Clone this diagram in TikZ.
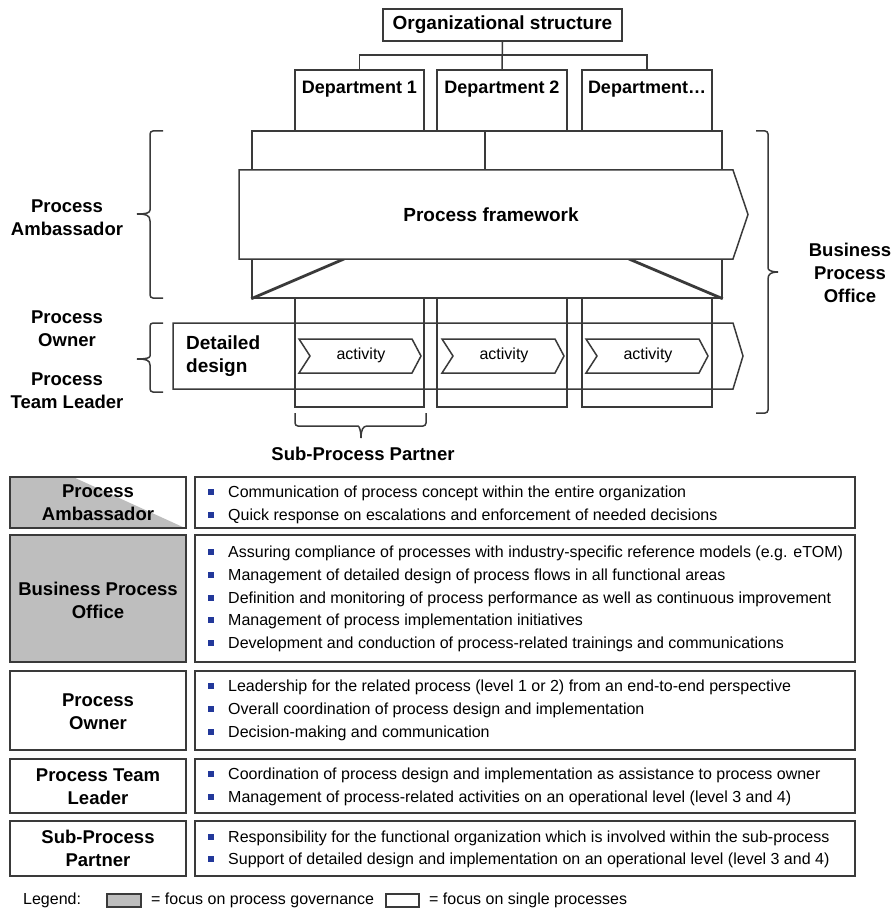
\documentclass[tikz,border=0pt]{standalone}
\usepackage{fontspec}
\setmainfont{Liberation Sans}
\usetikzlibrary{calc}
\definecolor{linegray}{HTML}{3A3A3A}
\definecolor{fillgray}{HTML}{BEBEBE}
\definecolor{bulletblue}{HTML}{22389A}

% one bullet line of the role table: name, centre y, text
\newcommand\bulletline[3]{%
  \node[sq] (#1s) at (211,#2) {};
  \node[btxt] (#1) at (228,#2+5.5) {#3};}

\begin{document}
\begin{tikzpicture}[x=1pt,y=-1pt,
  conn/.style={draw=linegray, line width=1.5pt},
  frame/.style={draw=linegray, line width=1.5pt, fill=white},
  col/.style={draw=linegray, line width=1.5pt, fill=white, rectangle, inner sep=0pt},
  hdr/.style={font=\fontsize{19}{23}\selectfont\bfseries, align=center, inner sep=0pt},
  deptlbl/.style={font=\fontsize{18}{22}\selectfont\bfseries, inner sep=0pt},
  actlbl/.style={font=\fontsize{16}{19}\selectfont, inner sep=0pt},
  side/.style={font=\fontsize{18.5}{23}\selectfont\bfseries, align=center, inner sep=0pt},
  brace/.style={draw=linegray, line width=1.5pt, rounded corners=3pt},
  cell/.style={draw=linegray, line width=1.7pt, rectangle, inner sep=0pt},
  sq/.style={fill=bulletblue, minimum size=6pt, inner sep=0pt, rectangle},
  btxt/.style={font=\fontsize{16}{19}\selectfont, anchor=base west, inner sep=0pt},
  leg/.style={font=\fontsize{16}{19}\selectfont, anchor=base west, inner sep=0pt}]
\useasboundingbox (0,0) rectangle (894,909);

% ---- organisational structure ----
\node[col, minimum width=239, minimum height=32] (org) at (502.5,25) {};
\node[hdr] (orgl) at (org.center) {Organizational structure};

\node[col, minimum width=129, minimum height=337] (dept1) at (359.5,238.5) {};
\node[col, minimum width=130, minimum height=337] (dept2) at (502,238.5) {};
\node[col, minimum width=130, minimum height=337] (dept3) at (647,238.5) {};
\node[deptlbl] (d1l) at ($(dept1.north)+(0,20)$) {Department 1};
\node[deptlbl] (d2l) at ($(dept2.north)+(0,20)$) {Department 2};
\node[deptlbl] (d3l) at ($(dept3.north)+(0,20)$) {Department…};

\draw[conn] (org.south) -- (dept2.north);
\draw[conn] (dept1.north) -- ++(0,-14) -| (dept3.north);

% ---- process framework ----
\node[col, minimum width=233, minimum height=39] (upl) at (368.5,150.5) {};
\node[col, minimum width=237, minimum height=39] (upr) at (603.5,150.5) {};
\node[col, minimum width=470, minimum height=39] (low) at (487,278.5) {};
\draw[draw=linegray, line width=2.8pt] (low.south west) -- (344,259);
\draw[draw=linegray, line width=2.8pt] (low.south east) -- (629,259);
\draw[frame] (239,170) -- (733,170) -- (748,214.5) -- (733,259) -- (239,259) -- cycle;
\node[hdr] (pf) at (491,215) {Process framework};

% ---- detailed design ----
\draw[conn] (173,323) -- (733,323) -- (743,356) -- (733,389) -- (173,389) -- cycle;
\node[hdr, align=left, anchor=west] (dd) at (186,356.5) {Detailed\\design};
\foreach \x/\n in {299/act1, 442/act2, 586/act3}{
  \draw[frame] (\x,339) -- (\x+113,339) -- (\x+122,356) -- (\x+113,373)
               -- (\x,373) -- (\x+11,356) -- cycle;
  \node[actlbl] (\n) at (\x+62,355) {activity};
}

% ---- role braces ----
\draw[brace] (163,131) -- (150,131) -- (150,207) [sharp corners] .. controls (150,213) and (146,214) .. (137,214)
   .. controls (146,214) and (150,215) .. (150,221) [rounded corners=3pt] -- (150,298) -- (163,298);
\node[side] (pa) at (67,217.5) {Process\\Ambassador};

\draw[brace] (163,323) -- (150,323) -- (150,353) [sharp corners] .. controls (150,358) and (146,359) .. (137,359)
   .. controls (146,359) and (150,360) .. (150,365) [rounded corners=3pt] -- (150,392) -- (163,392);
\node[side] (po) at (67,329) {Process\\Owner};
\node[side] (ptl) at (67,390.5) {Process\\Team Leader};

\draw[brace] (756,131) -- (768,131) -- (768,265) [sharp corners] .. controls (768,270) and (771,272) .. (778,272)
   .. controls (771,272) and (768,274) .. (768,279) [rounded corners=3pt] -- (768,413) -- (756,413);
\node[side] (bpo) at (850,273) {Business\\Process\\Office};

\draw[brace] (295,413) -- (295,426) -- (355,426) [sharp corners] .. controls (359,426) and (361,430) .. (361,438)
   .. controls (361,430) and (363,426) .. (367,426) [rounded corners=3pt] -- (426,426) -- (426,413);
\node[side] (spp) at (363,454) {Sub-Process Partner};

% ---- role table ----
\node[cell, minimum width=176, minimum height=51] (paL) at (98,502.5) {};
\fill[fillgray] (paL.north west) -- ($(paL.north west)+(62,0)$) -- (paL.south east) -- (paL.south west) -- cycle;
\node[cell, minimum width=176, minimum height=51] (paL2) at (98,502.5) {};
\node[cell, minimum width=660, minimum height=51] (paR) at (525,502.5) {};

\node[cell, fill=fillgray, minimum width=176, minimum height=127] (bpoL) at (98,598.5) {};
\node[cell, minimum width=660, minimum height=127] (bpoR) at (525,598.5) {};

\node[cell, minimum width=176, minimum height=79] (poL) at (98,710.5) {};
\node[cell, minimum width=660, minimum height=79] (poR) at (525,710.5) {};

\node[cell, minimum width=176, minimum height=54] (ptlL) at (98,786) {};
\node[cell, minimum width=660, minimum height=54] (ptlR) at (525,786) {};

\node[cell, minimum width=176, minimum height=55] (sppL) at (98,848.5) {};
\node[cell, minimum width=660, minimum height=55] (sppR) at (525,848.5) {};

\node[side] (paT) at (98,503) {Process\\Ambassador};
\node[side] (bpoT) at (98,600) {Business Process\\Office};
\node[side] (poT) at (98,711.5) {Process\\Owner};
\node[side] (ptlT) at (98,786.5) {Process Team\\Leader};
\node[side] (sppT) at (98,848.5) {Sub-Process\\Partner};

\bulletline{pa1}{492}{Communication of process concept within the entire organization}
\bulletline{pa2}{515}{Quick response on escalations and enforcement of needed decisions}
\bulletline{bp1}{552}{Assuring compliance of processes with industry-specific reference models (e.g. eTOM)}
\bulletline{bp2}{575}{Management of detailed design of process flows in all functional areas}
\bulletline{bp3}{598}{Definition and monitoring of process performance as well as continuous improvement}
\bulletline{bp4}{620}{Management of process implementation initiatives}
\bulletline{bp5}{643}{Development and conduction of process-related trainings and communications}
\bulletline{po1}{686}{Leadership for the related process (level 1 or 2) from an end-to-end perspective}
\bulletline{po2}{709}{Overall coordination of process design and implementation}
\bulletline{po3}{732}{Decision-making and communication}
\bulletline{pt1}{774}{Coordination of process design and implementation as assistance to process owner}
\bulletline{pt2}{797}{Management of process-related activities on an operational level (level 3 and 4)}
\bulletline{sp1}{837}{Responsibility for the functional organization which is involved within the sub-process}
\bulletline{sp2}{859}{Support of detailed design and implementation on an operational level (level 3 and 4)}

% ---- legend ----
\node[leg] (legT) at (23,904.5) {Legend:};
\node[cell, line width=1.2pt, fill=fillgray, minimum width=34, minimum height=13] (legG) at (124,900.5) {};
\node[leg] (legGT) at (151,904.5) {= focus on process governance};
\node[cell, line width=1.2pt, minimum width=33, minimum height=13] (legW) at (402.5,900.5) {};
\node[leg] (legWT) at (429,904.5) {= focus on single processes};
\end{tikzpicture}
\end{document}
